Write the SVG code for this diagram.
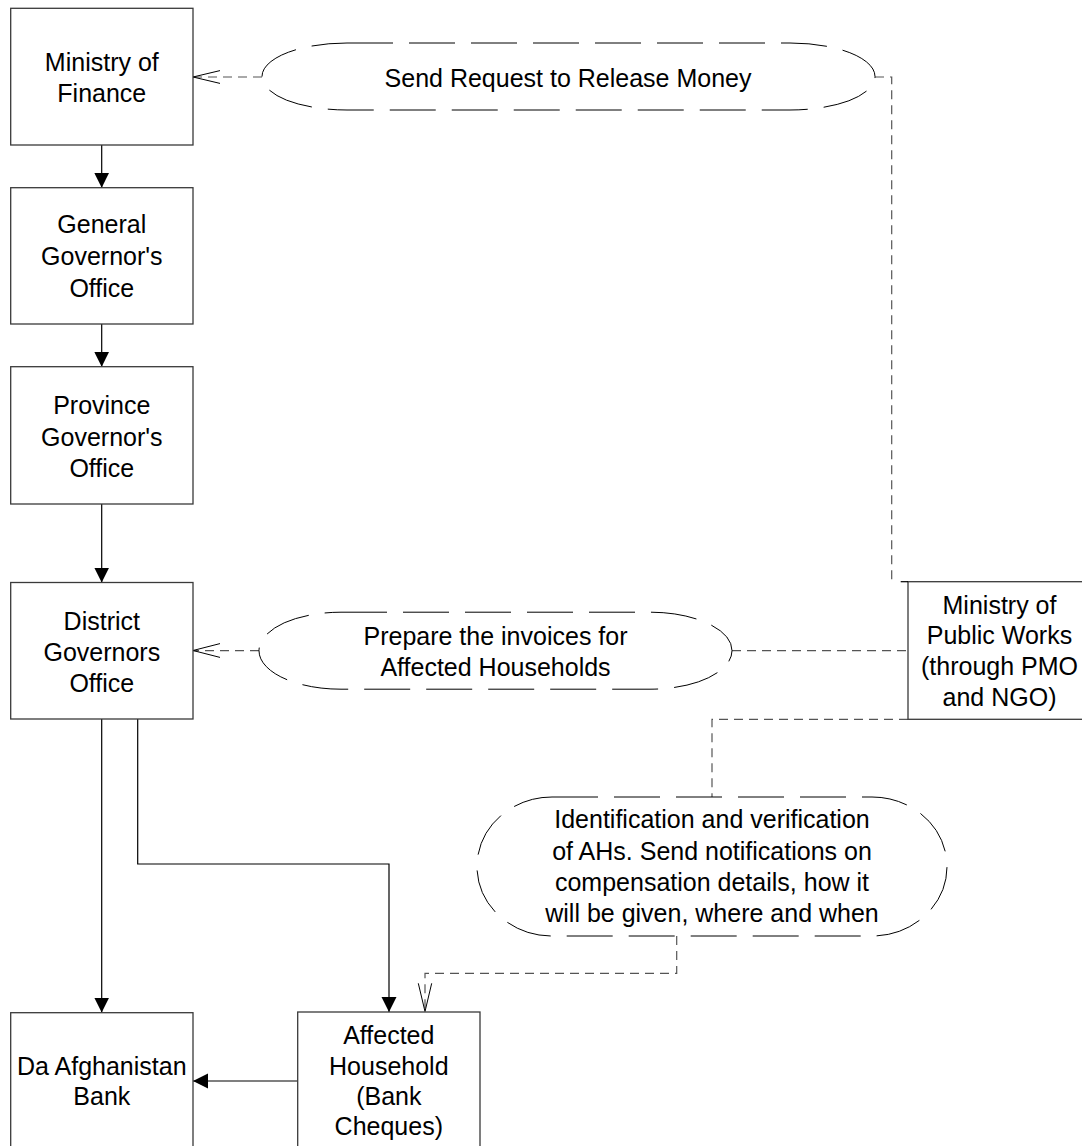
<svg xmlns="http://www.w3.org/2000/svg" width="1082" height="1146" viewBox="0 0 1082 1146">
<style>
.box{fill:#fff;stroke:#3a3a3a;stroke-width:1.3}
.term{fill:#fff;stroke:#000;stroke-width:1;stroke-dasharray:46 16}
.t{font-family:"Liberation Sans",Arial,sans-serif;font-size:25px;fill:#000;text-anchor:middle}
.solid{fill:none;stroke:#000;stroke-width:1.2}
.dash{fill:none;stroke:#555;stroke-width:1.2;stroke-dasharray:9 6}
.open{fill:none;stroke:#000;stroke-width:1}
</style>
<defs>
<marker id="fill" markerWidth="16" markerHeight="16" viewBox="0 0 16 16" refX="15" refY="7.5" orient="auto" markerUnits="userSpaceOnUse">
<path d="M0,0 L15,7.5 L0,15 Z" fill="#000"/>
</marker>
</defs>
<g id="connectors">
<path class="solid" d="M101.7,145 V187.7" marker-end="url(#fill)"/>
<path class="solid" d="M101.7,324 V366.7" marker-end="url(#fill)"/>
<path class="solid" d="M101.7,504 V582.5" marker-end="url(#fill)"/>
<path class="solid" d="M101.7,719 V1012.5" marker-end="url(#fill)"/>
<path class="solid" d="M137.7,719 V864 H389 V1012" marker-end="url(#fill)"/>
<path class="solid" d="M297.7,1081 H193" marker-end="url(#fill)"/>
<path class="dash" d="M262,77 H193"/>
<path class="open" d="M220,70.6 L193,77 L220,83.4"/>
<path class="dash" d="M875,77 H891.7 V580"/>
<path class="dash" d="M732,650.7 H908"/>
<path class="dash" d="M259,650.7 H193"/>
<path class="open" d="M220,643.6 L193,650.5 L220,657.4"/>
<path class="dash" d="M908,719.3 H712 V797"/>
<path class="dash" d="M676.7,936 V973.3 H425 V1011"/>
<path class="open" d="M418.3,983.3 L425,1011.5 L431.7,983.3"/>
</g>
<g id="mof">
<rect class="box" x="10.7" y="8.3" width="182.3" height="136.7"/>
<text class="t" x="101.8" y="71">Ministry of</text>
<text class="t" x="101.8" y="102">Finance</text>
</g>
<g id="ggo">
<rect class="box" x="10.7" y="187.7" width="182.3" height="136.3"/>
<text class="t" x="101.8" y="233">General</text>
<text class="t" x="101.8" y="265">Governor's</text>
<text class="t" x="101.8" y="297">Office</text>
</g>
<g id="pgo">
<rect class="box" x="10.7" y="366.7" width="182.3" height="137.3"/>
<text class="t" x="101.8" y="414">Province</text>
<text class="t" x="101.8" y="445.5">Governor's</text>
<text class="t" x="101.8" y="477">Office</text>
</g>
<g id="dgo">
<rect class="box" x="10.7" y="582.5" width="182.3" height="136.5"/>
<text class="t" x="101.8" y="629.5">District</text>
<text class="t" x="101.8" y="661">Governors</text>
<text class="t" x="101.8" y="692">Office</text>
</g>
<g id="dab">
<rect class="box" x="10.7" y="1012.7" width="182.3" height="150"/>
<text class="t" x="101.8" y="1075">Da Afghanistan</text>
<text class="t" x="101.8" y="1105">Bank</text>
</g>
<g id="ah">
<rect class="box" x="297.7" y="1012" width="182.3" height="150"/>
<text class="t" x="388.8" y="1043.5">Affected</text>
<text class="t" x="388.8" y="1075">Household</text>
<text class="t" x="388.8" y="1105">(Bank</text>
<text class="t" x="388.8" y="1135">Cheques)</text>
</g>
<g id="mpw">
<rect class="box" x="908" y="581.7" width="183" height="137.6"/>
<path class="solid" d="M900.7,581.7 H908" stroke="#3a3a3a"/>
<text class="t" x="999.5" y="613.5">Ministry of</text>
<text class="t" x="999.5" y="644">Public Works</text>
<text class="t" x="999.5" y="675">(through PMO</text>
<text class="t" x="999.5" y="706">and NGO)</text>
</g>
<g id="req">
<rect class="term" x="262" y="43" width="613" height="67" rx="85" ry="33.5"/>
<text class="t" x="568" y="87.3">Send Request to Release Money</text>
</g>
<g id="inv">
<rect class="term" x="259" y="612.2" width="473" height="77" rx="82" ry="38.5"/>
<text class="t" x="495.5" y="644.5">Prepare the invoices for</text>
<text class="t" x="495.5" y="676">Affected Households</text>
</g>
<g id="ident">
<rect class="term" x="477" y="797" width="470" height="139" rx="75" ry="69.5"/>
<text class="t" x="712" y="827.5">Identification and verification</text>
<text class="t" x="712" y="859.5">of AHs. Send notifications on</text>
<text class="t" x="712" y="891">compensation details, how it</text>
<text class="t" x="712" y="922">will be given, where and when</text>
</g>
</svg>
